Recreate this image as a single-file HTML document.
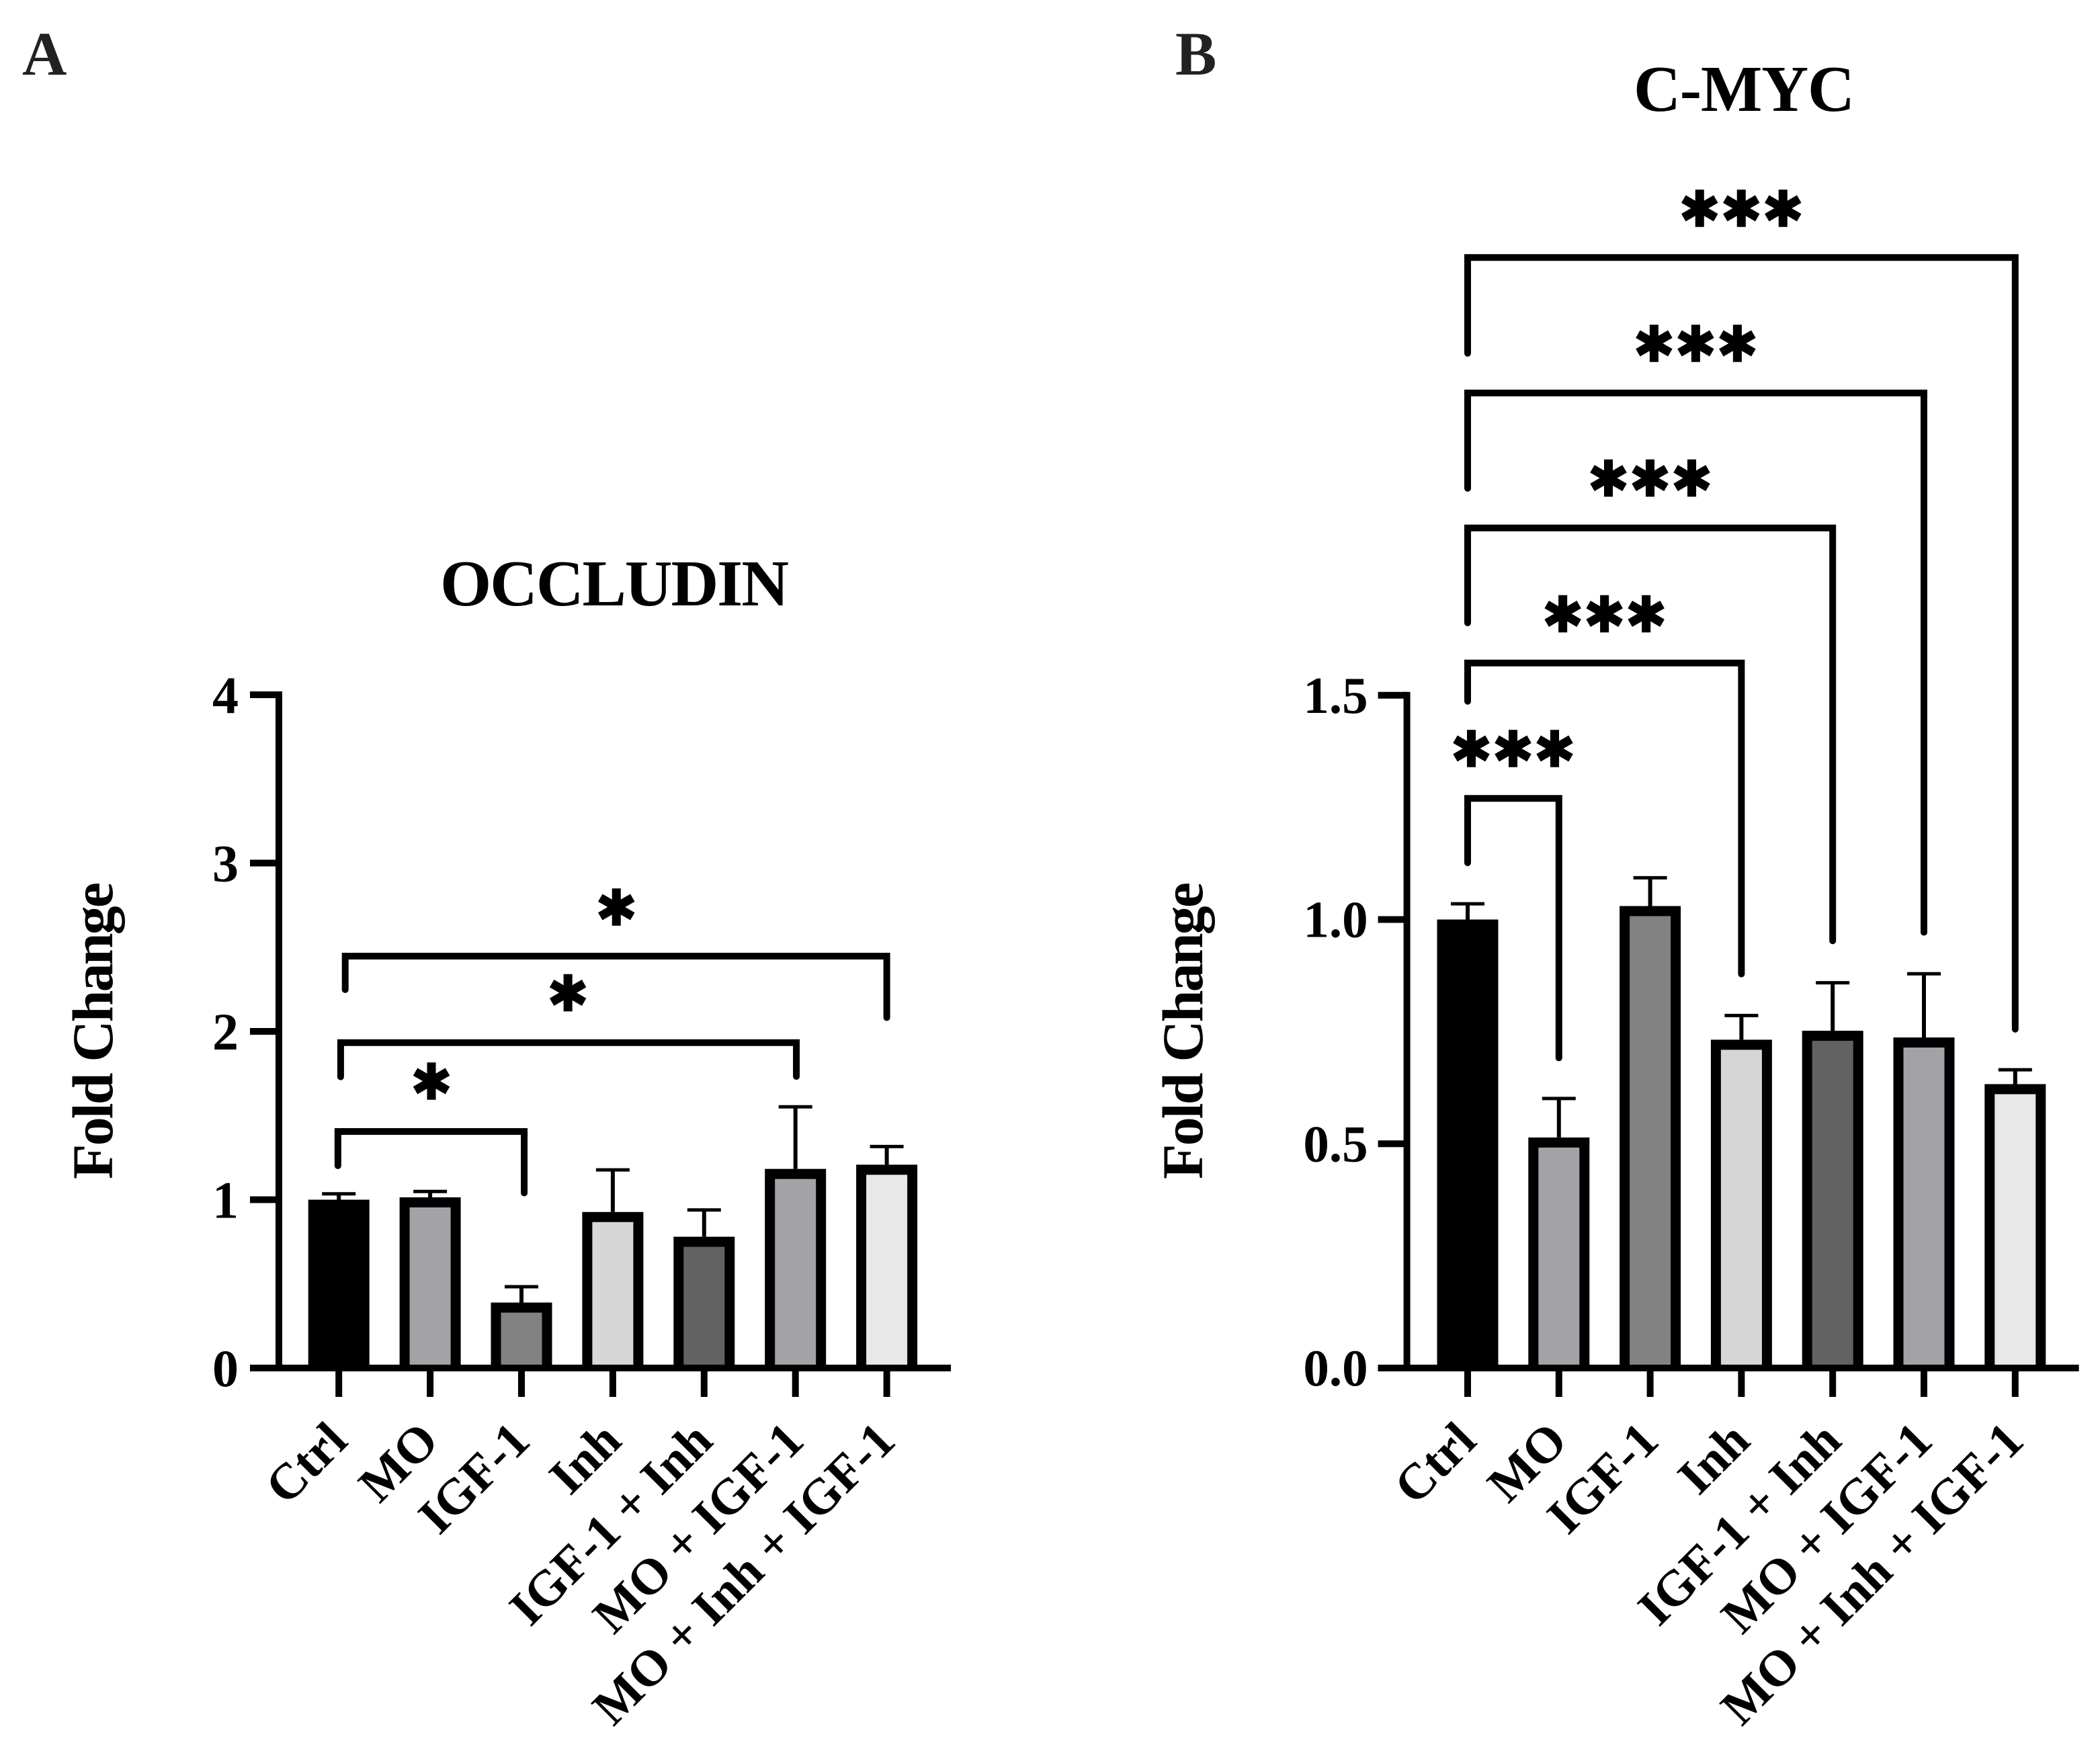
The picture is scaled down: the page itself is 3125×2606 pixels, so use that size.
<!DOCTYPE html>
<html lang="en">
<head>
<meta charset="utf-8">
<title>OCCLUDIN and C-MYC fold change</title>
<style>
html,body{margin:0;padding:0;background:#fff;}
svg{display:block;}
text{font-family:"Liberation Serif",serif;font-weight:bold;fill:#000;}
.star{font-family:"DejaVu Sans",sans-serif;font-weight:normal;stroke:#000;stroke-width:1.5px;}
</style>
</head>
<body>
<svg id="figure" xmlns="http://www.w3.org/2000/svg" width="3125" height="2606" viewBox="0 0 3125 2606">
<rect width="3125" height="2606" fill="#ffffff"/>
<text x="33" y="111" font-size="92" style="fill:#222">A</text>
<text x="1749" y="111" font-size="92" style="fill:#222">B</text>
<text x="655" y="901" font-size="98" textLength="519" lengthAdjust="spacing">OCCLUDIN</text>
<text x="2431" y="165" font-size="97" textLength="329" lengthAdjust="spacing">C-MYC</text>
<text transform="translate(167 1755) rotate(-90)" font-size="86" textLength="442" lengthAdjust="spacing">Fold Change</text>
<text transform="translate(1789 1755) rotate(-90)" font-size="86" textLength="442" lengthAdjust="spacing">Fold Change</text>
<g id="chart-a"></g>
<g id="chart-b"></g>
</svg>
<script>
const categories = ["Ctrl", "MO", "IGF-1", "Inh", "IGF-1 + Inh", "MO + IGF-1", "MO + Inh + IGF-1"];
const barColors = ["#000000", "#a3a3a7", "#828282", "#d6d6d6", "#626262", "#a3a3a7", "#e8e8e8"];

const occludinMeans = [1.0, 1.014, 0.389, 0.927, 0.78, 1.183, 1.208];
const occludinErrorTops = [1.035, 1.049, 0.483, 1.177, 0.939, 1.552, 1.316];
const occludinTicks = [0, 1, 2, 3, 4];
const occludinTickLabels = ["0", "1", "2", "3", "4"];
const occludinBracketFrom = [-0.01, 0.02, 0.07];
const occludinBracketTo = [2.03, 5.01, 6.0];
const occludinBracketLevel = [1.405, 1.933, 2.447];
const occludinBracketFromEnd = [1.182, 1.71, 2.228];
const occludinBracketToEnd = [1.02, 1.712, 2.062];
const occludinStarText = ["✱", "✱", "✱"];
const occludinStarCat = [1.015, 2.51, 3.04];
const occludinStarLevel = [1.697, 2.221, 2.73];

const cmycMeans = [1.0, 0.514, 1.03, 0.732, 0.752, 0.737, 0.633];
const cmycErrorTops = [1.035, 0.601, 1.093, 0.786, 0.859, 0.879, 0.665];
const cmycTicks = [0, 0.5, 1, 1.5];
const cmycTickLabels = ["0.0", "0.5", "1.0", "1.5"];
const cmycBracketFrom = [0, 0, 0, 0, 0];
const cmycBracketTo = [1, 3, 4, 5, 6];
const cmycBracketLevel = [1.27, 1.572, 1.873, 2.174, 2.476];
const cmycBracketFromEnd = [1.119, 1.479, 1.654, 1.954, 2.255];
const cmycBracketToEnd = [0.684, 0.871, 0.945, 0.964, 0.748];
const cmycStarText = ["✱✱✱", "✱✱✱", "✱✱✱", "✱✱✱", "✱✱✱"];
const cmycStarCat = [0.498, 1.5, 2.0, 2.5, 3.0];
const cmycStarLevel = [1.378, 1.679, 1.981, 2.282, 2.583];

const NS = "http://www.w3.org/2000/svg";
const BASE_Y = 2036;

function make(parent, tag, attrs, txt) {
  const el = document.createElementNS(NS, tag);
  for (const k in attrs) el.setAttribute(k, attrs[k]);
  if (txt !== undefined) el.textContent = txt;
  parent.appendChild(el);
  return el;
}

function drawChart(cfg) {
  const root = document.getElementById(cfg.id);
  const x = i => cfg.x0 + i * cfg.step;
  const y = v => BASE_Y - v * cfg.unit;

  cfg.means.forEach((m, i) => {
    const errTop = y(cfg.errs[i]);
    const stem = make(root, "line", {x1: x(i), x2: x(i), y1: y(m), y2: errTop, stroke: "#000", "stroke-width": 6});
    
    
    const cap = make(root, "line", {x1: x(i) - 25, x2: x(i) + 25, y1: errTop, y2: errTop, stroke: "#000", "stroke-width": 5});
    
    
    const bar = make(root, "rect", {x: x(i) - 45.5, y: y(m), width: 91, height: BASE_Y - y(m), fill: "#000"});
    
    
    const fill = make(root, "rect", {x: x(i) - 30.5, y: y(m) + 15, width: 61, height: Math.max(0, BASE_Y - y(m) - 15), fill: barColors[i]});
    
    
  });

  const yAxis = make(root, "line", {x1: cfg.axisX, x2: cfg.axisX, y1: y(cfg.ticks[cfg.ticks.length - 1]) - 5, y2: BASE_Y + 5, stroke: "#000", "stroke-width": 10});
  
  
  const xAxis = make(root, "line", {x1: cfg.axisX - 43, x2: cfg.axisX + 1000, y1: BASE_Y, y2: BASE_Y, stroke: "#000", "stroke-width": 10});
  
  

  cfg.ticks.forEach((t, i) => {
    const tick = make(root, "line", {x1: cfg.axisX - 43, x2: cfg.axisX, y1: y(t), y2: y(t), stroke: "#000", "stroke-width": 10});
    
    
    const lab = make(root, "text", {x: cfg.axisX - cfg.labelGap, y: y(t) + cfg.labelDrop, "text-anchor": "end", "font-size": cfg.tickFont}, cfg.tickLabels[i]);
    
    
  });

  categories.forEach((c, i) => {
    const tick = make(root, "line", {x1: x(i), x2: x(i), y1: BASE_Y, y2: 2079, stroke: "#000", "stroke-width": 10});
    
    
    const lab = make(root, "text", {transform: "translate(" + (x(i) + 16) + " 2148) rotate(-45)", "text-anchor": "end", "font-size": 75}, c);
    
    
  });

  cfg.brFrom.forEach((f, i) => {
    const xa = x(f), xb = x(cfg.brTo[i]), top = y(cfg.brLevel[i]);
    const d = "M" + xa + " " + (y(cfg.brFromEnd[i]) - 5) + " L" + xa + " " + top + " L" + xb + " " + top + " L" + xb + " " + (y(cfg.brToEnd[i]) - 5);
    const br = make(root, "path", {d: d, fill: "none", stroke: "#000", "stroke-width": 10, "stroke-linecap": "round", "stroke-linejoin": "miter"});
    
    
  });

  cfg.starText.forEach((s, i) => {
    const st = make(root, "text", {x: x(cfg.starCat[i]), y: y(cfg.starLevel[i]) + 25, "text-anchor": "middle", "font-size": 74, class: "star"}, s);
    
    
  });
}

drawChart({id: "chart-a", x0: 504.2, step: 135.9, unit: 250.5, axisX: 415, tickFont: 78, labelGap: 60, labelDrop: 27,
  means: occludinMeans, errs: occludinErrorTops, ticks: occludinTicks, tickLabels: occludinTickLabels,
  brFrom: occludinBracketFrom, brTo: occludinBracketTo, brLevel: occludinBracketLevel,
  brFromEnd: occludinBracketFromEnd, brToEnd: occludinBracketToEnd,
  starText: occludinStarText, starCat: occludinStarCat, starLevel: occludinStarLevel});

drawChart({id: "chart-b", x0: 2184, step: 135.8, unit: 667.5, axisX: 2093.6, tickFont: 77, labelGap: 58, labelDrop: 26,
  means: cmycMeans, errs: cmycErrorTops, ticks: cmycTicks, tickLabels: cmycTickLabels,
  brFrom: cmycBracketFrom, brTo: cmycBracketTo, brLevel: cmycBracketLevel,
  brFromEnd: cmycBracketFromEnd, brToEnd: cmycBracketToEnd,
  starText: cmycStarText, starCat: cmycStarCat, starLevel: cmycStarLevel});
</script>
</body>
</html>
